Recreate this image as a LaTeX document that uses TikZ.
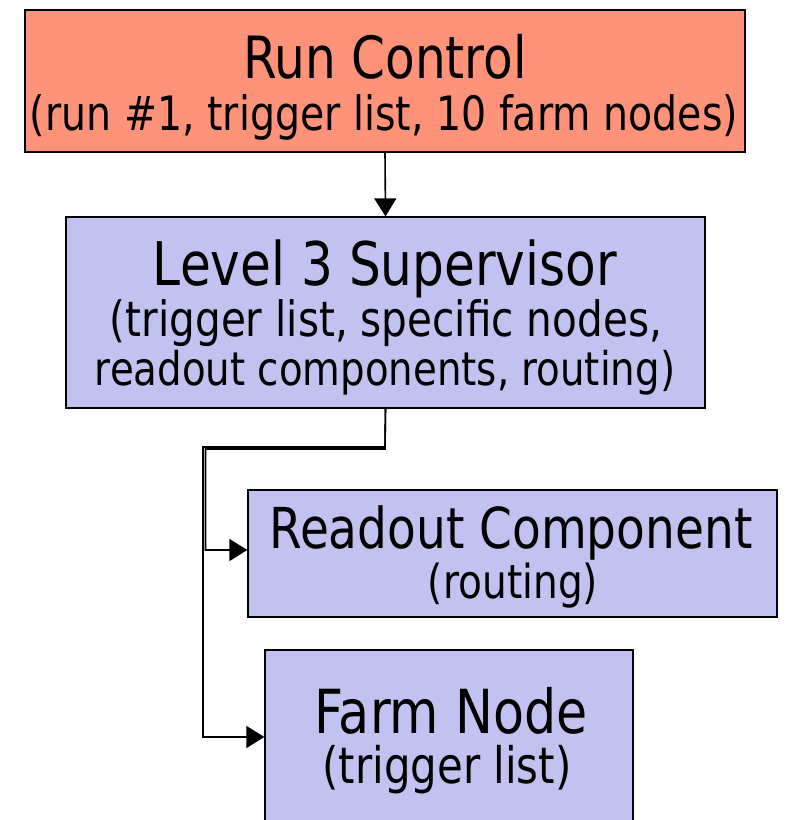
\documentclass[tikz,border=0pt]{standalone}
\usepackage{fontspec}
\setmainfont{DejaVu Sans}
\usepackage{graphicx}
\usetikzlibrary{arrows.meta}
\definecolor{salmon}{RGB}{255,147,122}
\definecolor{lav}{RGB}{194,194,240}
\newcommand\fitw[2]{\scalebox{1}[1.2]{\resizebox{#1}{!}{#2}}}
\begin{document}
\begin{tikzpicture}[x=1pt,y=-1pt,
  boxa/.style={draw=black,line width=1.3pt,rectangle,inner sep=0pt},
  txt/.style={anchor=base,inner sep=0pt,outer sep=0pt},
  conn/.style={line width=1.6pt},
  tip/.style={-{Triangle[length=18pt,width=22pt]}}]
\useasboundingbox (0,0) rectangle (786,820);
% boxes
\node[boxa,fill=salmon,minimum width=720pt,minimum height=142pt] (run) at (385,81) {};
\node[boxa,fill=lav,minimum width=639pt,minimum height=191pt] (sup) at (385.5,312.5) {};
\node[boxa,fill=lav,minimum width=529pt,minimum height=127pt] (ro) at (512.5,553.5) {};
\node[boxa,fill=lav,minimum width=368pt,minimum height=180pt] (farm) at (449,740) {};
% texts
\node[txt] (t1) at (385,78) {\fitw{284pt}{Run Control}};
\node[txt] (t2) at (384,130) {\fitw{708pt}{(run \#1, trigger list, 10 farm nodes)}};
\node[txt] (t3) at (385,285) {\fitw{464pt}{Level 3 Supervisor}};
\node[txt] (t4) at (386,336) {\fitw{552pt}{(trigger list, specific nodes,}};
\node[txt] (t5) at (385,385) {\fitw{580pt}{readout components, routing)}};
\node[txt] (t6) at (511,548) {\fitw{483pt}{Readout Component}};
\node[txt] (t7) at (513,598) {\fitw{170pt}{(routing)}};
\node[txt] (t8) at (451,733) {\fitw{273pt}{Farm Node}};
\node[txt] (t9) at (447,783) {\fitw{249pt}{(trigger list)}};
% connectors
\draw[conn,tip] (run.south) -- (sup.north);
\coordinate (j1) at (385,449);
\coordinate (j2) at (385,447);
\draw[conn,tip] (sup.south) -- (j1) -- (205.5,449) -- (205.5,550) -- (ro.west |- 0,550);
\draw[conn,tip] (sup.south) -- (j2) -- (203,447) -- (203,737) -- (farm.west |- 0,737);
\end{tikzpicture}
\end{document}
